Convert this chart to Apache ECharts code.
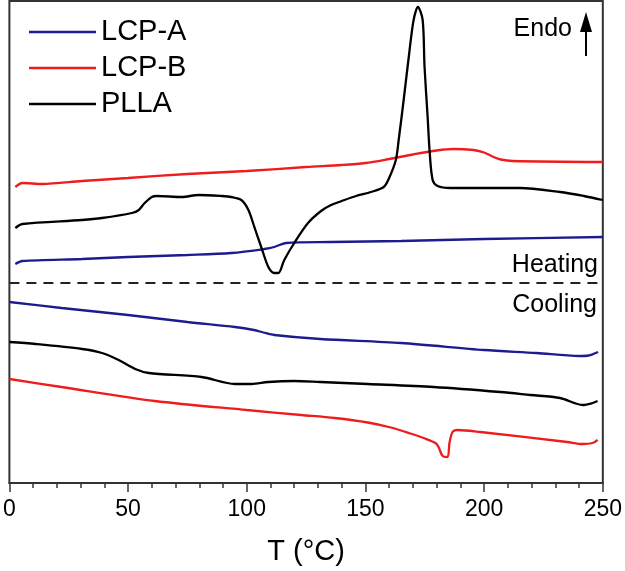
<!DOCTYPE html>
<html>
<head>
<meta charset="utf-8">
<script src="https://cdn.jsdelivr.net/npm/echarts@6/dist/echarts.min.js"></script>
<style>
  html, body { margin: 0; padding: 0; background: #fff; }
  #chart { width: 625px; height: 571px; }
</style>
</head>
<body>
<div id="chart"></div>
<script>
// temperature (°C) and heat flow (a.u., endo up)
var heatA_T = [2.5, 5.5, 30.6, 50, 75, 93.5, 107.4, 111.6, 116.6, 135.5, 165, 200, 250];
var heatA_Y = [21.9, 22.2, 22.4, 22.6, 22.8, 23.0, 23.4, 23.6, 24.0, 24.1, 24.2, 24.4, 24.6];

var heatB_T = [2.5, 5.5, 13.8, 30.6, 50, 75, 100, 125, 140, 150, 160, 170, 180, 187, 195.5, 200, 204, 207, 212, 250];
var heatB_Y = [29.6, 30.0, 29.9, 30.2, 30.5, 30.9, 31.2, 31.6, 31.8, 32.0, 32.4, 32.85, 33.25, 33.4, 33.3, 33.05, 32.6, 32.35, 32.2, 32.1];

var heatP_T = [2.5, 5.5, 30.6, 39, 51.6, 54.5, 57, 60, 62, 72.6, 79.7, 89.3, 93.5, 97.7, 100.7, 103.2, 106.1, 109.1, 111.6, 113.3,
               115.8, 120, 125.8, 131.3, 135.5, 140, 146, 152.3, 157.7, 159.8, 162.8, 164, 166.1, 168.6, 170.3, 172.1,
               174.1, 174.9, 176.2, 177, 178.3, 180.4, 185.8, 215, 232, 242, 250];
var heatP_Y = [25.5, 25.9, 26.3, 26.5, 27.0, 27.3, 28.0, 28.6, 28.7, 28.6, 28.8, 28.7, 28.6, 28.3, 27.3, 25.6, 23.6, 21.6, 21.0, 21.0,
               22.3, 24.0, 26.0, 27.2, 27.8, 28.2, 28.7, 29.1, 29.6, 30.4, 32.3, 34.3, 38.3, 43.3, 46.3, 47.6,
               46.3, 41.6, 36.6, 33.3, 30.3, 29.7, 29.5, 29.5, 29.1, 28.7, 28.3];

var coolA_T = [0, 22, 50, 75, 95, 103, 107, 111.6, 131, 165, 200, 222, 240, 244, 248];
var coolA_Y = [18.1, 17.5, 16.8, 16.1, 15.6, 15.3, 15.05, 14.8, 14.4, 14.0, 13.3, 13.0, 12.7, 12.75, 13.1];

var coolP_T = [0, 11, 30.6, 39, 46, 53, 58.7, 81, 95, 102, 109, 120, 131, 151, 178.7, 206.8, 219.5, 232, 241.5, 245.7, 247.8];
var coolP_Y = [14.1, 13.9, 13.4, 13.0, 12.3, 11.4, 11.0, 10.6, 9.9, 9.9, 10.1, 10.2, 10.1, 9.9, 9.6, 9.1, 8.8, 8.5, 7.8, 8.0, 8.2];

var coolB_T = [0, 22, 61.3, 100, 123, 137, 151, 160.7, 169, 174.5, 179.5, 180.8, 182.5, 184.6, 185.4, 186.7, 188.8, 198.4, 235, 241.5, 245.7, 247.8];
var coolB_Y = [10.4, 9.6, 8.2, 7.3, 6.8, 6.5, 6.05, 5.55, 4.95, 4.5, 4.0, 3.6, 2.7, 2.6, 4.0, 5.1, 5.3, 5.1, 4.1, 3.9, 4.0, 4.3];

var sampleNames = ['LCP-A', 'LCP-B', 'PLLA'];
var dividerLevel = 20.0;   // dashed line between heating / cooling runs
var xTicks = [0, 50, 100, 150, 200, 250];

var FONT = '"Liberation Sans", Arial, sans-serif';
var colors = { 'LCP-A': '#1c1c8e', 'LCP-B': '#ee1c1c', 'PLLA': '#000000' };

function pairs(xs, ys) {
  var out = [];
  for (var i = 0; i < xs.length; i++) out.push([xs[i], ys[i]]);
  return out;
}

function curve(name, xs, ys) {
  return {
    name: name,
    type: 'line',
    data: pairs(xs, ys),
    symbol: 'none',
    smooth: 0.3,
    lineStyle: { color: colors[name], width: 2.3 },
    itemStyle: { color: colors[name] },
    silent: true,
    z: 3
  };
}

var chart = echarts.init(document.getElementById('chart'));

var series = [
  curve('LCP-A', heatA_T, heatA_Y),
  curve('LCP-B', heatB_T, heatB_Y),
  curve('PLLA', heatP_T, heatP_Y),
  curve('LCP-A', coolA_T, coolA_Y),
  curve('PLLA', coolP_T, coolP_Y),
  curve('LCP-B', coolB_T, coolB_Y)
];
series[0].markLine = {
  silent: true,
  symbol: ['none', 'none'],
  label: { show: false },
  lineStyle: { color: '#222', width: 2, type: [10, 7] },
  data: [{ yAxis: dividerLevel }]
};

var option = {
  animation: false,
  backgroundColor: '#fff',
  grid: {
    left: 7, right: 22, top: 1, bottom: 88,
    show: true, borderColor: '#333', borderWidth: 2, backgroundColor: 'transparent'
  },
  legend: {
    data: sampleNames,
    orient: 'vertical',
    left: 29, top: 17, padding: 0,
    icon: 'rect',
    itemWidth: 67, itemHeight: 2.3, itemGap: 6,
    textStyle: { fontFamily: FONT, fontSize: 29, color: '#000', lineHeight: 30 },
    selectedMode: false
  },
  xAxis: {
    type: 'value',
    min: xTicks[0], max: xTicks[xTicks.length - 1], interval: 50,
    name: 'T (°C)',
    nameLocation: 'middle',
    nameGap: 54,
    nameTextStyle: { fontFamily: FONT, fontSize: 29, color: '#000' },
    axisLine: { lineStyle: { color: '#333', width: 2 } },
    axisTick: { show: true, length: 9, inside: false, lineStyle: { color: '#333', width: 1.5 } },
    minorTick: { show: true, splitNumber: 5, length: 5, lineStyle: { color: '#333', width: 1.5 } },
    axisLabel: { fontFamily: FONT, fontSize: 23, color: '#000', margin: 15 },
    splitLine: { show: false }
  },
  yAxis: {
    type: 'value',
    min: 0, max: 48.2,
    show: false,
    splitLine: { show: false }
  },
  graphic: [
    { type: 'text', x: 572, y: 29, style: { text: 'Endo', font: '25px ' + FONT, fill: '#000', textAlign: 'right', textVerticalAlign: 'middle' } },
    { type: 'line', shape: { x1: 586, y1: 56, x2: 586, y2: 28 }, style: { stroke: '#000', lineWidth: 2 } },
    { type: 'polygon', shape: { points: [[580, 32], [592, 32], [586, 12]] }, style: { fill: '#000' } },
    { type: 'text', x: 598, y: 265, style: { text: 'Heating', font: '25px ' + FONT, fill: '#000', textAlign: 'right', textVerticalAlign: 'middle' } },
    { type: 'text', x: 597, y: 305, style: { text: 'Cooling', font: '25px ' + FONT, fill: '#000', textAlign: 'right', textVerticalAlign: 'middle' } }
  ],
  series: series
};

chart.setOption(option);
</script>
</body>
</html>
